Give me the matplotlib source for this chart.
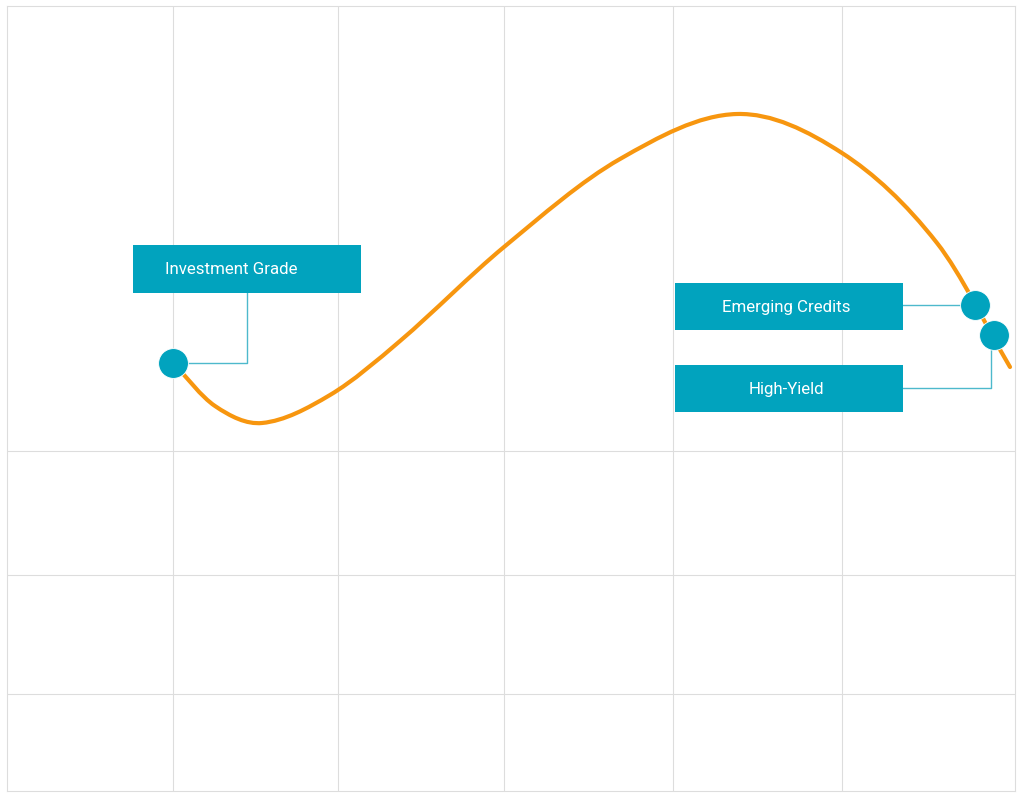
import matplotlib.pyplot as plt
from matplotlib.patches import Rectangle, PathPatch
from matplotlib.path import Path

# axes run in screen-like units: x left->right, y top->bottom
grid_x = [173, 338, 504, 673, 842]
grid_y = [451, 575, 694]

curve_x = [173, 215, 262, 330, 400, 504, 620, 737, 842, 937, 1010]
curve_y = [363, 406, 423, 395, 341, 247, 159, 114, 153, 243, 367]

labels = ["Investment Grade", "Emerging Credits", "High-Yield"]
point_x = [173, 975, 994]
point_y = [363, 305, 335]

TEAL = "#01a3be"
ORANGE = "#f7960f"
LINK = "#4db9cc"
GRID = "#dddddd"

fig = plt.figure(figsize=(10.24, 8), dpi=100)
ax = fig.add_axes([6.5 / 1024, 9 / 800, 1008.5 / 1024, 785.5 / 800])
ax.set_xlim(6.5, 1015)
ax.set_ylim(791, 5.5)

ax.set_xticks(grid_x)
ax.set_yticks(grid_y)
ax.tick_params(length=0, labelbottom=False, labelleft=False)
ax.grid(True, color=GRID, linewidth=0.8)
for s in ax.spines.values():
    s.set_color(GRID)
    s.set_linewidth(0.8)

# smooth line through the points: bezier segments with slopes taken from neighbours
n = len(curve_x)
slopes = []
for i in range(n):
    a, b = max(i - 1, 0), min(i + 1, n - 1)
    slopes.append((curve_y[b] - curve_y[a]) / (curve_x[b] - curve_x[a]))
verts = [(curve_x[0], curve_y[0])]
codes = [Path.MOVETO]
for i in range(n - 1):
    dx = (curve_x[i + 1] - curve_x[i]) / 3
    verts += [(curve_x[i] + dx, curve_y[i] + slopes[i] * dx),
              (curve_x[i + 1] - dx, curve_y[i + 1] - slopes[i + 1] * dx),
              (curve_x[i + 1], curve_y[i + 1])]
    codes += [Path.CURVE4] * 3
ax.add_patch(PathPatch(Path(verts, codes), facecolor="none", edgecolor=ORANGE,
                       linewidth=3, capstyle="round", zorder=3))

# label boxes: (left, top, width, height, text center x)
boxes = [(133, 245, 228, 48, 231), (675, 283, 228, 47, 786), (675, 365, 228, 47, 786)]
for (bx, by, bw, bh, tx), name in zip(boxes, labels):
    ax.add_patch(Rectangle((bx, by), bw, bh, facecolor=TEAL, edgecolor="none", zorder=4))
    ax.text(tx, by + bh / 2 + 1, name, color="white", fontsize=12.2, ha="center", va="center",
            family="Roboto", zorder=5)

# connectors
ax.plot([247, 247, point_x[0]], [293, point_y[0], point_y[0]], color=LINK, lw=1, zorder=2)
ax.plot([903, point_x[1]], [point_y[1], point_y[1]], color=LINK, lw=1, zorder=2)
ax.plot([903, 991, 991], [388, 388, point_y[2]], color=LINK, lw=1, zorder=2)

ax.scatter(point_x, point_y, s=460, color=TEAL, edgecolors="white", linewidths=0.6, zorder=6)

fig.savefig("out.png", dpi=100)
